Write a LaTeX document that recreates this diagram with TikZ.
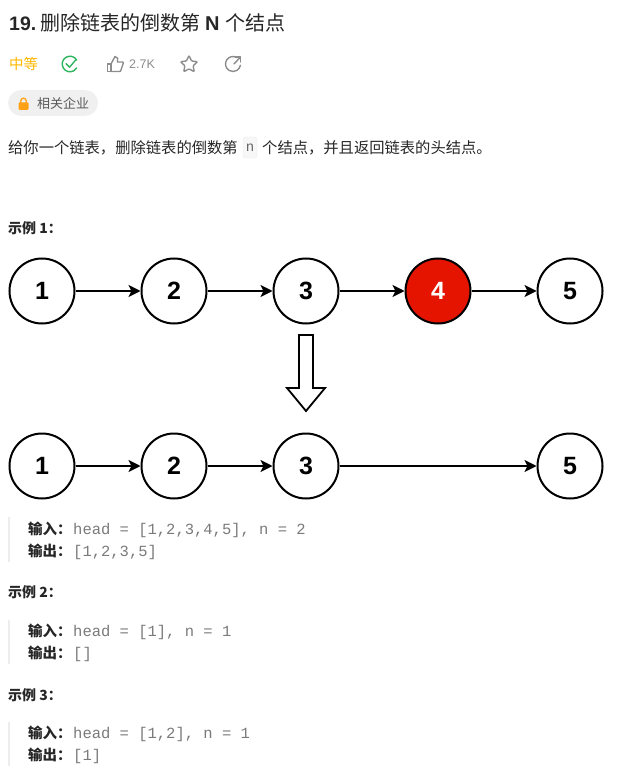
\documentclass[tikz,border=0pt]{standalone}
\usepackage{fontspec}
\setmainfont{Liberation Sans}
\newfontfamily\cjk{Noto Sans CJK SC}
\newfontfamily\codefont{Liberation Mono}
\usetikzlibrary{arrows.meta,positioning,shapes.geometric}
\definecolor{inkc}{HTML}{262626}
\definecolor{codec}{HTML}{7A7A7A}
\definecolor{iconc}{HTML}{8C8C8C}
\definecolor{deadc}{HTML}{E51400}
\definecolor{okc}{HTML}{2DB55D}
\definecolor{midc}{HTML}{FFB800}
\definecolor{lockc}{HTML}{FFA116}
\tikzset{
  listnode/.style={draw, circle, line width=2pt, minimum size=65pt, inner sep=0pt,
                   fill=white, font=\bfseries\fontsize{25}{25}\selectfont},
  deadnode/.style={listnode, fill=deadc, text=white},
  link/.style={line width=1.8pt, -{Stealth[length=12pt,width=12pt,inset=3pt]}},
  txt/.style={anchor=base west, inner sep=0pt, text=inkc, font=\cjk\fontsize{15.3}{18}\selectfont},
  heading/.style={txt, font=\cjk\bfseries\fontsize{14}{18}\selectfont},
  field/.style={txt, font=\cjk\bfseries\fontsize{14.5}{18}\selectfont},
  code/.style={txt, text=codec, font=\codefont\fontsize{15.5}{18}\selectfont},
  quotebar/.style={fill=black!7, draw=none},
  icon/.style={draw=iconc, line width=1.4pt, line cap=round, line join=round},
}
\begin{document}
\begin{tikzpicture}[x=1pt,y=-1pt]
  \useasboundingbox (0,0) rectangle (628,775);
  % header
  \node[txt, font=\bfseries\fontsize{19.5}{24}\selectfont] (num) at (9,31) {19.};
  \node[txt, font=\cjk\fontsize{20}{24}\selectfont] (title) at (40,31) {删除链表的倒数第};
  \node[txt, font=\bfseries\fontsize{20}{24}\selectfont] (titlen) at (205,31) {N};
  \node[txt, font=\cjk\fontsize{20}{24}\selectfont] (titleb) at (225,31) {个结点};
  \node[txt, text=midc, font=\cjk\fontsize{14.5}{18}\selectfont] (level) at (9,70) {中等};
  % icons
  \draw[icon, draw=okc] (76.75,60.1) arc[start angle=-30, end angle=-330, radius=7.8];
  \draw[icon, draw=okc] (66,63.6) -- (69.6,67.2) -- (75.8,59.8);
  \draw[icon] (107.5,64) rectangle (111,71.5);
  \draw[icon] (111,64) -- (115,56.5) .. controls (118,56.5) and (118,59) .. (117.5,62) -- (122.5,62)
     .. controls (123.5,62) and (123.5,63) .. (123,64) -- (121,70) .. controls (120.8,71.5) and (120,71.5) .. (119,71.5) -- (111,71.5);
  \node[txt, text=iconc, font=\fontsize{12.5}{14}\selectfont] (likes) at (129,69) {2.7K};
  \node[draw=iconc, line width=1.4pt, star, star points=5, star point ratio=2.1, minimum size=18pt,
        inner sep=0pt, rounded corners=1pt] (fav) at (189,64.5) {};
  \draw[icon] (236.75,57.5) arc[start angle=-60, end angle=-350, radius=7.5];
  \draw[icon] (234,64) -- (240.5,57);
  \draw[icon] (235.5,57) -- (240.5,57) -- (240.5,62);
  % pill
  \node[fill=black!6, rounded corners=13pt, minimum width=90pt, minimum height=26pt, inner sep=0pt] (pill) at (53,103) {};
  \fill[lockc, rounded corners=1pt] (18.5,102.5) rectangle (28.5,110);
  \draw[lockc, line width=1.3pt] (20.7,103) -- (20.7,101) arc[start angle=180, end angle=360, radius=2.8] -- (26.3,103);
  \node[txt, text=black!65, font=\cjk\fontsize{13}{16}\selectfont] (company) at (37,109) {相关企业};
  % description
  \node[txt] (desca) at (8,153.5) {给你一个链表，删除链表的倒数第};
  \node[fill=black!3, draw=black!8, rounded corners=3pt, minimum width=14pt, minimum height=21pt, inner sep=0pt,
        text=black!60, font=\codefont\fontsize{14}{14}\selectfont] (argn) at (250,147.5) {n};
  \node[txt] (descb) at (262,153.5) {个结点，并且返回链表的头结点。};
  % example 1
  \node[heading] (ex1) at (8,234) {示例 1：};
  \node[listnode] (a1) at (42,291)  {1};
  \node[listnode] (a2) at (174,291) {2};
  \node[listnode] (a3) at (306,291) {3};
  \node[deadnode] (a4) at (438,291) {4};
  \node[listnode] (a5) at (570,291) {5};
  \draw[link] (a1) -- (a2);
  \draw[link] (a2) -- (a3);
  \draw[link] (a3) -- (a4);
  \draw[link] (a4) -- (a5);
  \draw[line width=1.8pt, line join=miter, fill=white]
    (299,335) -- (313,335) -- (313,388) -- (325,388) -- (306,411) -- (287,388) -- (299,388) -- cycle;
  \node[listnode] (b1) at (42,466)  {1};
  \node[listnode] (b2) at (174,466) {2};
  \node[listnode] (b3) at (306,466) {3};
  \node[listnode] (b5) at (570,466) {5};
  \draw[link] (b1) -- (b2);
  \draw[link] (b2) -- (b3);
  \draw[link] (b3) -- (b5);
  \fill[quotebar] (8,517) rectangle (10,562);
  \node[field] (in1) at (28,534) {输入：};
  \node[code] (in1v) at (73,534) {head = [1,2,3,4,5], n = 2};
  \node[field] (out1) at (28,556) {输出：};
  \node[code] (out1v) at (73,556) {[1,2,3,5]};
  % example 2
  \node[heading] (ex2) at (8,597) {示例 2：};
  \fill[quotebar] (8,620) rectangle (10,664);
  \node[field] (in2) at (28,636) {输入：};
  \node[code] (in2v) at (73,636) {head = [1], n = 1};
  \node[field] (out2) at (28,658) {输出：};
  \node[code] (out2v) at (73,658) {[]};
  % example 3
  \node[heading] (ex3) at (8,700) {示例 3：};
  \fill[quotebar] (8,722) rectangle (10,766);
  \node[field] (in3) at (28,738) {输入：};
  \node[code] (in3v) at (73,738) {head = [1,2], n = 1};
  \node[field] (out3) at (28,760) {输出：};
  \node[code] (out3v) at (73,760) {[1]};
\end{tikzpicture}
\end{document}
